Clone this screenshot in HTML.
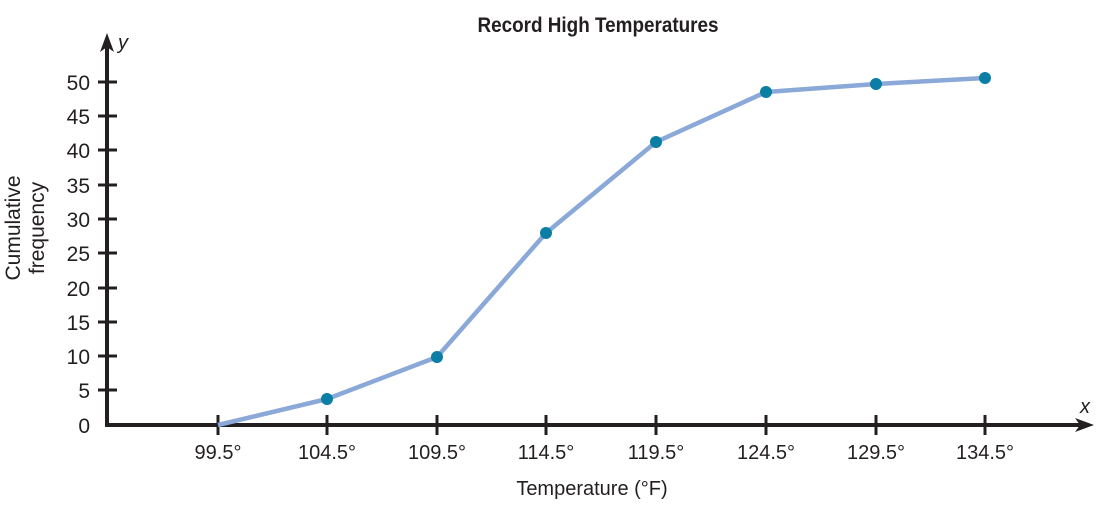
<!DOCTYPE html>
<html><head><style>
html,body{margin:0;padding:0;background:#fff;}
svg text{font-family:"Liberation Sans Narrow","Liberation Sans",sans-serif;fill:#231f20;}
</style></head><body>
<svg width="1101" height="503" viewBox="0 0 1101 503" xmlns="http://www.w3.org/2000/svg">
<text x="598" y="32" font-size="21" font-weight="bold" text-anchor="middle" transform="translate(598 0) scale(0.9 1) translate(-598 0)">Record High Temperatures</text>
<line x1="107" y1="425" x2="107" y2="45" stroke="#231f20" stroke-width="4"/>
<polygon points="107,33 100,52 107,47 114,52" fill="#231f20"/>
<line x1="105" y1="425" x2="1082" y2="425" stroke="#231f20" stroke-width="4"/>
<polygon points="1094,425 1075,418 1080,425 1075,432" fill="#231f20"/>
<text x="118" y="49" font-size="20" font-style="italic">y</text>
<text x="1080" y="413" font-size="20" font-style="italic">x</text>
<g stroke="#231f20" stroke-width="3">
<line x1="98" x2="117" y1="82" y2="82"/><line x1="98" x2="117" y1="116" y2="116"/>
<line x1="98" x2="117" y1="150" y2="150"/><line x1="98" x2="117" y1="185" y2="185"/>
<line x1="98" x2="117" y1="219" y2="219"/><line x1="98" x2="117" y1="253" y2="253"/>
<line x1="98" x2="117" y1="288" y2="288"/><line x1="98" x2="117" y1="322" y2="322"/>
<line x1="98" x2="117" y1="356" y2="356"/><line x1="98" x2="117" y1="390" y2="390"/>
<line x1="218" x2="218" y1="415" y2="435"/><line x1="327" x2="327" y1="415" y2="435"/>
<line x1="437" x2="437" y1="415" y2="435"/><line x1="546" x2="546" y1="415" y2="435"/>
<line x1="656" x2="656" y1="415" y2="435"/><line x1="766" x2="766" y1="415" y2="435"/>
<line x1="876" x2="876" y1="415" y2="435"/><line x1="985" x2="985" y1="415" y2="435"/>
</g>
<g font-size="21" text-anchor="end">
<text x="90" y="90">50</text><text x="90" y="124">45</text><text x="90" y="158">40</text>
<text x="90" y="193">35</text><text x="90" y="227">30</text><text x="90" y="261">25</text>
<text x="90" y="296">20</text><text x="90" y="330">15</text><text x="90" y="364">10</text>
<text x="90" y="398">5</text><text x="90" y="433">0</text>
</g>
<g font-size="20" text-anchor="middle">
<text x="218" y="459">99.5°</text><text x="327" y="459">104.5°</text><text x="437" y="459">109.5°</text>
<text x="546" y="459">114.5°</text><text x="656" y="459">119.5°</text><text x="766" y="459">124.5°</text>
<text x="876" y="459">129.5°</text><text x="985" y="459">134.5°</text>
<text x="592" y="495">Temperature (°F)</text>
</g>
<g font-size="21" text-anchor="middle">
<text transform="translate(20 228) rotate(-90)">Cumulative</text>
<text transform="translate(44 228) rotate(-90)">frequency</text>
</g>
<polyline points="218,425 327,399 437,357 546,233 656,142 766,92 876,84 985,78" fill="none" stroke="#8aa8d8" stroke-width="4.5" stroke-linejoin="round"/>
<g fill="#0a7ea4">
<circle cx="327" cy="399" r="6"/><circle cx="437" cy="357" r="6"/><circle cx="546" cy="233" r="6"/>
<circle cx="656" cy="142" r="6"/><circle cx="766" cy="92" r="6"/><circle cx="876" cy="84" r="6"/>
<circle cx="985" cy="78" r="6"/>
</g>
</svg>
</body></html>
